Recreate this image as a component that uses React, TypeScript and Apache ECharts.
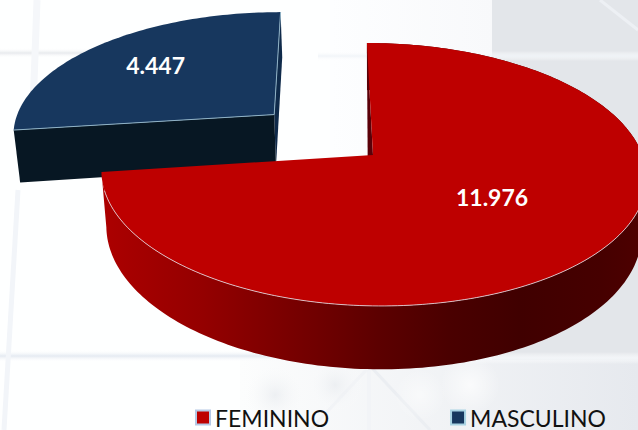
import React, { useEffect, useRef } from "react";
import * as echarts from "echarts";

const categories = ["FEMININO", "MASCULINO"];
const values = [11976, 4447];
const total = values[0] + values[1];
const sliceColors = ["#BE0000", "#17375E"];

// Projection of the tilted disc onto the page
const CX = 373, CY = 155, RX = 269.5, RY = 128.6, SKEW = 7, PERSP = 0.148, DEPTH = 54, VX = 372;
const EXPLODE = 0.5;

function project(u: number, v: number, lower = false): number[] {
  const w = 1 - PERSP * v;
  const x = CX + (RX * u + SKEW * v) / w;
  const y = CY + (RY * v) / w;
  if (!lower) return [x, y];
  return [x + (VX - x) * 0.018, y + DEPTH / w];
}

const fmt = (n: number) => String(n).replace(/\B(?=(\d{3})+$)/g, ".");
const dir = (a: number) => [Math.sin(a), -Math.cos(a)];

function rimPoints(a0: number, a1: number, ox: number, oy: number, lower = false, step = 0.02) {
  const pts: number[][] = [];
  const n = Math.ceil(Math.abs(a1 - a0) / step);
  for (let i = 0; i <= n; i++) {
    const [u, v] = dir(a0 + ((a1 - a0) * i) / n);
    pts.push(project(u + ox, v + oy, lower));
  }
  return pts;
}

const redSide = {
  type: "linear", x: 102, y: 0, x2: 645, y2: 0, global: true,
  colorStops: [
    { offset: 0, color: "#AC0000" },
    { offset: 0.18, color: "#950000" },
    { offset: 0.36, color: "#760000" },
    { offset: 0.51, color: "#5C0000" },
    { offset: 0.64, color: "#4A0000" },
    { offset: 0.77, color: "#400000" },
    { offset: 0.92, color: "#460000" },
    { offset: 1, color: "#4E0000" },
  ],
};

function renderFemale(_: any, api: any) {
  const end = (api.value(0) / total) * Math.PI * 2;
  const top = rimPoints(0, end, 0, 0);
  const low = rimPoints(0, end, 0, 0, true);
  const apex = project(0, 0);
  const far = top[0];
  const mid = dir(end / 2);
  const lp = project(mid[0] * 0.55, mid[1] * 0.47);
  return {
    type: "group",
    children: [
      { type: "polygon", shape: { points: [...top, ...low.slice().reverse()] }, style: { fill: redSide } },
      { type: "polygon", shape: { points: [far, apex, [apex[0] - 5, apex[1] + 53]] }, style: { fill: "#5A0008" } },
      { type: "polygon", shape: { points: [apex, ...top] }, style: { fill: sliceColors[0] } },
      {
        type: "polyline",
        shape: { points: rimPoints(1.5, end - 0.14, 0, 0) },
        style: { fill: "none", stroke: "rgba(228,222,230,0.8)", lineWidth: 1 },
      },
      {
        type: "text",
        x: lp[0], y: lp[1],
        style: { text: fmt(api.value(0)), fill: "#fff", font: "bold 23px Lato", align: "center", verticalAlign: "middle" },
      },
    ],
  };
}

function renderMale(_: any, api: any) {
  const sweep = (api.value(0) / total) * Math.PI * 2;
  const a0 = Math.PI * 2 - sweep;
  const a1 = Math.PI * 2;
  const b = dir((a0 + a1) / 2);
  const ox = b[0] * EXPLODE, oy = b[1] * EXPLODE;
  const top = rimPoints(a0, a1, ox, oy);
  const apex = project(ox, oy);
  const apexL = project(ox, oy, true);
  const left = top[0], far = top[top.length - 1];
  const leftD = dir(a0), farD = dir(a1);
  const leftL = project(leftD[0] + ox, leftD[1] + oy, true);
  const farL = project(farD[0] + ox, farD[1] + oy, true);
  const lp = project(ox + b[0] * 0.67, oy + b[1] * 0.68);
  return {
    type: "group",
    children: [
      { type: "polygon", shape: { points: [far, apex, apexL, farL] }, style: { fill: "#0F2A4A" } },
      { type: "polygon", shape: { points: [left, apex, apexL, leftL] }, style: { fill: "#071723" } },
      { type: "polygon", shape: { points: [apex, ...top] }, style: { fill: sliceColors[1] } },
      { type: "polyline", shape: { points: [left, apex, far] }, style: { fill: "none", stroke: "#8FB2C6", lineWidth: 1 } },
      {
        type: "text",
        x: lp[0], y: lp[1],
        style: { text: fmt(api.value(0)), fill: "#fff", font: "bold 23px Lato", align: "center", verticalAlign: "middle" },
      },
    ],
  };
}

const bandRect = (x: number, y: number, width: number, height: number, fill: any) => ({
  type: "rect", silent: true, z: -10, shape: { x, y, width, height }, style: { fill },
});
const bandLine = (x1: number, y1: number, x2: number, y2: number, stroke: string, lineWidth: number) => ({
  type: "line", silent: true, z: -9, shape: { x1, y1, x2, y2 }, style: { stroke, lineWidth },
});
const hFade = (a: string, b: string) => new echarts.graphic.LinearGradient(0, 0, 1, 0, [
  { offset: 0, color: a }, { offset: 1, color: b },
]);
const softBand = (x: number, y: number, width: number, height: number, color: string) => ({
  type: "rect", silent: true, z: -9, shape: { x, y, width, height },
  style: {
    fill: new echarts.graphic.LinearGradient(0, 0, 0, 1, [
      { offset: 0, color: "rgba(255,255,255,0)" }, { offset: 0.5, color }, { offset: 1, color: "rgba(255,255,255,0)" },
    ]),
  },
});
const blotch = (cx: number, cy: number, r: number, color: string) => ({
  type: "circle", silent: true, z: -9, shape: { cx, cy, r },
  style: {
    fill: new echarts.graphic.RadialGradient(0.5, 0.5, 0.5, [
      { offset: 0, color }, { offset: 1, color: "rgba(255,255,255,0)" },
    ]),
  },
});

const background = [
  bandRect(0, 0, 638, 430, "#FEFFFF"),
  bandRect(492, 0, 146, 360, "#E3E6EA"),
  bandRect(330, 0, 162, 360, hFade("#FDFEFF", "#F8F9FB")),
  bandRect(240, 360, 398, 70, hFade("#FCFDFD", "#E6E9EE")),
  softBand(0, 48, 150, 10, "rgba(226,229,233,0.8)"),
  softBand(318, 51, 320, 10, "rgba(240,244,248,0.9)"),
  softBand(0, 350, 320, 12, "rgba(222,229,238,0.8)"),
  softBand(318, 352, 320, 12, "rgba(244,247,250,0.9)"),
  bandLine(37, 0, 33, 110, "#F5F7FA", 7),
  bandLine(18, 190, 4, 430, "#F2F5F9", 5),
  bandLine(369, 362, 369, 430, "#F2F4F7", 4),
  bandLine(372, 368, 430, 430, "#EBEEF2", 3),
  bandLine(368, 368, 310, 430, "#F1F3F6", 3),
  bandLine(600, 0, 638, 30, "#EDF0F4", 3),
  blotch(470, 385, 30, "rgba(255,255,255,0.7)"),
  blotch(275, 395, 34, "rgba(224,228,233,0.5)"),
  blotch(335, 385, 30, "rgba(226,230,235,0.5)"),
  blotch(420, 395, 26, "rgba(255,255,255,0.5)"),
];

export default function App() {
  const ref = useRef<HTMLDivElement>(null);
  useEffect(() => {
    if (!ref.current) return;
    const chart = echarts.init(ref.current, undefined, { renderer: "svg" });
    chart.setOption({
      animation: false,
      backgroundColor: "#FEFFFF",
      graphic: { elements: background },
      legend: {
        left: 195,
        top: 406,
        padding: 0,
        itemWidth: 14,
        itemHeight: 14,
        itemGap: 121,
        icon: "rect",
        selectedMode: false,
        data: categories,
        textStyle: { fontFamily: "Lato", fontSize: 23, color: "#111111" },
      },
      series: [
        {
          type: "custom", name: categories[1], coordinateSystem: "none", z: 2,
          renderItem: renderMale, data: [[values[1]]],
          itemStyle: { color: sliceColors[1], borderColor: "#A9D3E3", borderWidth: 1.5 },
        },
        {
          type: "custom", name: categories[0], coordinateSystem: "none", z: 3,
          renderItem: renderFemale, data: [[values[0]]],
          itemStyle: { color: sliceColors[0], borderColor: "#B5C9E6", borderWidth: 1.5 },
        },
      ],
    });
    return () => chart.dispose();
  }, []);
  return <div ref={ref} style={{ position: "absolute", left: 0, top: 0, width: 638, height: 430 }} />;
}
